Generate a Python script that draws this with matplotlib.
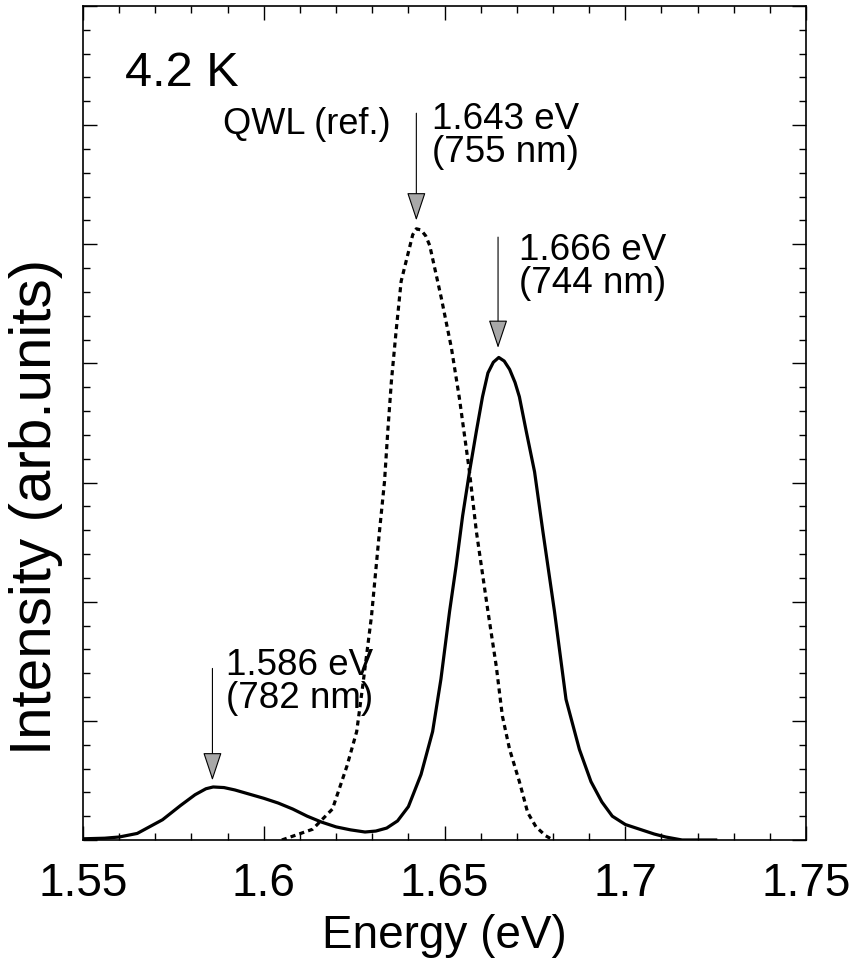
import matplotlib
matplotlib.use("Agg")
import matplotlib.pyplot as plt
from matplotlib.ticker import MultipleLocator

plt.rcParams["font.family"] = ["Liberation Sans", "DejaVu Sans"]

# solid curve (sample)
energy_sample = [1.550, 1.556, 1.560, 1.565, 1.572, 1.577, 1.581, 1.584, 1.586, 1.589,
                 1.592, 1.596, 1.600, 1.604, 1.608, 1.612, 1.616, 1.620, 1.624, 1.628,
                 1.631, 1.634, 1.637, 1.640, 1.6435, 1.6467, 1.649, 1.6514, 1.6532, 1.655,
                 1.6569, 1.6588, 1.6605, 1.662, 1.6635, 1.665, 1.6665, 1.668, 1.6695, 1.6707,
                 1.6726, 1.6749, 1.6772, 1.6804, 1.682, 1.6836, 1.6873, 1.6905, 1.6935, 1.6964,
                 1.700, 1.704, 1.708, 1.7112, 1.7157, 1.725]
intensity_sample = [0.01, 0.015, 0.025, 0.055, 0.17, 0.29, 0.38, 0.43, 0.445, 0.44,
                    0.42, 0.385, 0.35, 0.31, 0.26, 0.20, 0.15, 0.11, 0.085, 0.067,
                    0.075, 0.10, 0.16, 0.28, 0.55, 0.91, 1.35, 1.92, 2.30, 2.72,
                    3.09, 3.43, 3.72, 3.92, 4.01, 4.05, 4.02, 3.95, 3.84, 3.72,
                    3.43, 3.09, 2.59, 1.92, 1.55, 1.18, 0.76, 0.49, 0.32, 0.20,
                    0.13, 0.09, 0.05, 0.025, 0.0, 0.0]

# dashed curve (QWL reference)
energy_ref = [1.605, 1.6135, 1.619, 1.623, 1.6257, 1.6274, 1.6298, 1.6311, 1.632, 1.6334,
              1.6343, 1.6353, 1.6366, 1.638, 1.6403, 1.6412, 1.6422, 1.6435, 1.6448, 1.6459,
              1.6491, 1.6519, 1.6541, 1.656, 1.6569, 1.6588, 1.662, 1.6643, 1.666, 1.668,
              1.6707, 1.673, 1.6753, 1.678, 1.680]
intensity_ref = [0.0, 0.09, 0.26, 0.62, 0.91, 1.30, 1.88, 2.30, 2.59, 3.01,
                 3.43, 3.85, 4.27, 4.69, 4.97, 5.08, 5.13, 5.12, 5.07, 4.99,
                 4.55, 4.13, 3.71, 3.29, 3.09, 2.59, 1.92, 1.46, 1.04, 0.76,
                 0.49, 0.23, 0.11, 0.035, 0.0]

# peak markers: arrow x, arrow top, arrow tip, label
peak_x = [1.5858, 1.6422, 1.6648]
arrow_top = [1.44, 6.10, 5.06]
arrow_tip = [0.50, 5.20, 4.13]
peak_labels = ["1.586 eV\n(782 nm)", "1.643 eV\n(755 nm)", "1.666 eV\n(744 nm)"]
label_x = [1.5895, 1.6465, 1.6705]
label_y = [1.62, 6.20, 5.10]

fig = plt.figure(figsize=(8.53, 9.70), dpi=100)
ax = fig.add_axes([0.0973, 0.133, 0.8477, 0.8598])

ax.plot(energy_sample, intensity_sample, color="black", lw=2.3)
ax.plot(energy_ref, intensity_ref, color="black", lw=2.3, linestyle=(0, (1.6, 1.3)))

# setas com ponta cinza sobre os picos
for x, y0, y1, lab, lx, ly in zip(peak_x, arrow_top, arrow_tip, peak_labels, label_x, label_y):
    ax.annotate(
        "",
        xy=(x, y1),
        xytext=(x, y0),
        arrowprops=dict(
            arrowstyle="-|>,head_length=1.8,head_width=0.6",
            fc="#a8a8a8",
            ec="black",
            lw=0.8,
            shrinkA=0,
            shrinkB=0,
            mutation_scale=10,
        ),
    )
    ax.text(lx, ly, lab, fontsize=26.5, ha="left", va="top", linespacing=0.92)

ax.text(1.5887, 5.93, "QWL (ref.)", fontsize=26, ha="left", va="baseline")
ax.text(1.5616, 6.34, "4.2 K", fontsize=35, ha="left", va="baseline")

ax.set_xlim(1.55, 1.75)
ax.set_ylim(0, 7)
ax.xaxis.set_major_locator(MultipleLocator(0.05))
ax.xaxis.set_minor_locator(MultipleLocator(0.01))
ax.yaxis.set_major_locator(MultipleLocator(1))
ax.yaxis.set_minor_locator(MultipleLocator(0.2))
ax.set_xticks([1.55, 1.6, 1.65, 1.7, 1.75])
ax.set_xticklabels(["1.55", "1.6", "1.65", "1.7", "1.75"])

ax.tick_params(which="both", direction="in", top=True, right=True, width=1)
ax.tick_params(which="major", length=10, labelsize=33, pad=15)
ax.tick_params(which="minor", length=5)
ax.tick_params(axis="y", which="both", labelleft=False)

for s in ax.spines.values():
    s.set_linewidth(1.2)

ax.set_xlabel("Energy (eV)", fontsize=33, labelpad=6)
ax.set_ylabel("Intensity (arb.units)", fontsize=42)
ax.yaxis.set_label_coords(-0.028, 0.40)

plt.savefig("out.png", dpi=100)
